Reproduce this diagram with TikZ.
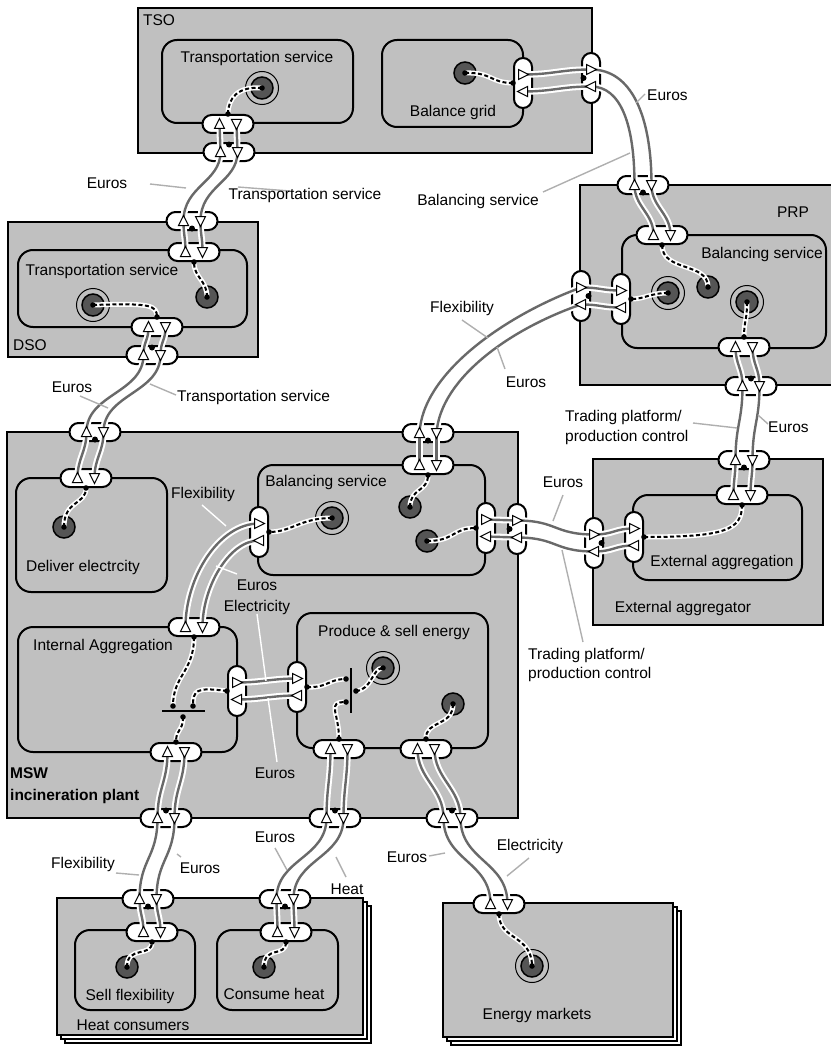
\documentclass[tikz,border=0pt]{standalone}
\usepackage{fontspec}
\setmainfont{Liberation Sans}

\definecolor{actfill}{RGB}{192,192,192}
\definecolor{stimfill}{RGB}{85,85,85}
\definecolor{flowline}{RGB}{105,105,105}
\definecolor{leadline}{RGB}{175,175,175}

\tikzset{
  actor/.style={draw, fill=actfill, line width=2pt},
  stackback/.style={draw, fill=white, line width=1.5pt},
  activity/.style={draw, fill=actfill, line width=2pt, rounded corners=15pt},
  hport/.style={draw, fill=white, line width=2pt, rounded corners=9pt, minimum width=51pt, minimum height=18pt, inner sep=0pt},
  vport/.style={draw, fill=white, line width=2pt, rounded corners=9pt, minimum width=18pt, minimum height=50pt, inner sep=0pt},
  flow/.style={draw=flowline, line width=2.4pt, preaction={draw=white, line width=6.5pt}},
  dep/.style={draw=black, line width=2pt, dash pattern=on 4pt off 2.5pt, preaction={draw=white, line width=5pt, solid}},
  lead/.style={draw=leadline, line width=1.4pt},
  leadw/.style={draw=white, line width=1.4pt},
  lbl/.style={inner sep=0pt, font=\fontsize{15.5}{18}\selectfont},
  stimnode/.style={circle, draw, line width=1.5pt, fill=stimfill, minimum size=22pt, inner sep=0pt},
  ringnode/.style={circle, draw, line width=1pt, minimum size=33pt, inner sep=0pt},
  tu/.pic={\draw[fill=white, line width=1pt] (0,-5.5) -- (5,4.5) -- (-5,4.5) -- cycle;},
  td/.pic={\draw[fill=white, line width=1pt] (0,5.5) -- (5,-4.5) -- (-5,-4.5) -- cycle;},
  tr/.pic={\draw[fill=white, line width=1pt] (5.5,0) -- (-4.5,-5) -- (-4.5,5) -- cycle;},
  tl/.pic={\draw[fill=white, line width=1pt] (-5.5,0) -- (4.5,-5) -- (4.5,5) -- cycle;}
}

% ports: horizontal pill with -l/-r, vertical pill with -t/-b
\newcommand{\hpt}[3]{\node[hport] (#1) at (#2,#3) {};
  \coordinate (#1-l) at ([xshift=-8.5pt]#1.center);
  \coordinate (#1-r) at ([xshift=8.5pt]#1.center);}
\newcommand{\vpt}[3]{\node[vport] (#1) at (#2,#3) {};
  \coordinate (#1-t) at ([yshift=8.5pt]#1.center);
  \coordinate (#1-b) at ([yshift=-8.5pt]#1.center);}
\newcommand{\stim}[3]{\node[stimnode] (#1) at (#2,#3) {};}
\newcommand{\estim}[3]{\node[ringnode] at (#2,#3) {};
  \node[stimnode] (#1) at (#2,#3) {};}

\begin{document}
\begin{tikzpicture}[x=1pt, y=-1pt]
\useasboundingbox (0,0) rectangle (830,1046);

% actors
\draw[actor] (138,8) rectangle (592,153);
\draw[actor] (8,222) rectangle (258,357);
\draw[actor] (580,185) rectangle (836,385);
\draw[actor] (7,432) rectangle (518,818);
\draw[actor] (593,459) rectangle (823,625);
\draw[stackback] (65,906) rectangle (371,1043);
\draw[stackback] (61,902) rectangle (367,1039);
\draw[actor] (57,898) rectangle (363,1035);
\draw[stackback] (451,911) rectangle (681,1045);
\draw[stackback] (447,907) rectangle (677,1041);
\draw[actor] (443,903) rectangle (673,1037);

% value activities
\draw[activity] (162,40) rectangle (353,123);
\draw[activity] (382,40) rectangle (523,127);
\draw[activity] (18,250) rectangle (247,327);
\draw[activity] (622,235) rectangle (826,348);
\draw[activity] (16,478) rectangle (167,592);
\draw[activity] (258,465) rectangle (485,575);
\draw[activity] (18,627) rectangle (237,752);
\draw[activity] (297,613) rectangle (488,748);
\draw[activity] (633,495) rectangle (802,580);
\draw[activity] (75,930) rectangle (195,1010);
\draw[activity] (217,930) rectangle (338,1010);

% ports
\hpt{tsoTa}{228}{124} \hpt{tsoA}{229}{152}
\hpt{dsoA1}{192}{221} \hpt{dsoT1}{194}{252}
\hpt{dsoT2}{157}{327} \hpt{dsoA2}{152}{355}
\hpt{mswA1}{95}{432} \hpt{mswD}{86}{478}
\hpt{mswA2}{428}{433} \hpt{mswB1}{428}{465}
\hpt{iaT}{194}{627} \hpt{iaB}{176}{752}
\hpt{psB1}{339}{749} \hpt{psB2}{426}{749}
\hpt{mswA3}{166}{818} \hpt{mswA4}{335}{818} \hpt{mswA5}{452}{818}
\hpt{hcA1}{148}{899} \hpt{hcS}{152}{932}
\hpt{hcA2}{285}{899} \hpt{hcC}{286}{932}
\hpt{emA}{499}{904}
\hpt{prpA1}{643}{185} \hpt{prpB1}{662}{235}
\hpt{prpB2}{744}{347} \hpt{prpA2}{751}{386}
\hpt{eaA1}{744}{460} \hpt{eaX1}{742}{495}
\vpt{bgV}{523}{83} \vpt{tsoV}{591}{78}
\vpt{prpV}{581}{296} \vpt{prpBV}{621}{299}
\vpt{mswBV1}{259}{532} \vpt{mswBV2}{486}{528} \vpt{mswV}{517}{529}
\vpt{eaV}{594}{543} \vpt{eaXV}{634}{537}
\vpt{iaV}{237}{691} \vpt{psV}{297}{687}

% value exchanges
\draw[flow] (tsoA-l) .. controls +(0,-14) and +(0,14) .. (tsoTa-l);
\draw[flow] (tsoTa-r) .. controls +(0,14) and +(0,-14) .. (tsoA-r);
\draw[flow] (dsoA1-l) .. controls +(0,-35) and +(0,30) .. (tsoA-l);
\draw[flow] (tsoA-r) .. controls +(0,30) and +(0,-35) .. (dsoA1-r);
\draw[flow] (dsoT1-l) .. controls +(0,-15) and +(0,15) .. (dsoA1-l);
\draw[flow] (dsoA1-r) .. controls +(0,15) and +(0,-15) .. (dsoT1-r);
\draw[flow] (dsoA2-l) .. controls +(0,-14) and +(0,14) .. (dsoT2-l);
\draw[flow] (dsoT2-r) .. controls +(0,14) and +(0,-14) .. (dsoA2-r);
\draw[flow] (mswA1-l) .. controls +(0,-38) and +(0,38) .. (dsoA2-l);
\draw[flow] (dsoA2-r) .. controls +(0,38) and +(0,-38) .. (mswA1-r);
\draw[flow] (mswD-l) .. controls +(0,-20) and +(0,20) .. (mswA1-l);
\draw[flow] (mswA1-r) .. controls +(0,20) and +(0,-20) .. (mswD-r);
\draw[flow] (mswB1-l) -- (mswA2-l);
\draw[flow] (mswA2-r) -- (mswB1-r);
\draw[flow] (mswA2-l) .. controls +(3,-60) and +(-76,28) .. (prpV-t);
\draw[flow] (prpV-b) .. controls +(-70,24) and +(4,-55) .. (mswA2-r);
\draw[flow] (prpV-t) .. controls +(20,0) and +(-20,0) .. (prpBV-t);
\draw[flow] (prpBV-b) .. controls +(-20,0) and +(20,0) .. (prpV-b);
\draw[flow] (bgV-t) .. controls +(30,0) and +(-30,0) .. (tsoV-t);
\draw[flow] (tsoV-b) .. controls +(-30,0) and +(30,0) .. (bgV-b);
\draw[flow] (tsoV-t) .. controls +(40,0) and +(0,-70) .. (prpA1-r);
\draw[flow] (prpA1-l) .. controls +(0,-60) and +(30,0) .. (tsoV-b);
\draw[flow] (prpB1-l) .. controls +(0,-22) and +(0,22) .. (prpA1-l);
\draw[flow] (prpA1-r) .. controls +(0,22) and +(0,-22) .. (prpB1-r);
\draw[flow] (prpA2-l) .. controls +(0,-18) and +(0,18) .. (prpB2-l);
\draw[flow] (prpB2-r) .. controls +(0,18) and +(0,-18) .. (prpA2-r);
\draw[flow] (eaA1-l) .. controls +(0,-35) and +(0,35) .. (prpA2-l);
\draw[flow] (prpA2-r) .. controls +(0,35) and +(0,-35) .. (eaA1-r);
\draw[flow] (eaX1-l) .. controls +(0,-16) and +(0,16) .. (eaA1-l);
\draw[flow] (eaA1-r) .. controls +(0,16) and +(0,-16) .. (eaX1-r);
\draw[flow] (mswBV2-t) .. controls +(15,0) and +(-15,0) .. (mswV-t);
\draw[flow] (mswV-b) .. controls +(-15,0) and +(15,0) .. (mswBV2-b);
\draw[flow] (mswV-t) .. controls +(40,0) and +(-40,0) .. (eaV-t);
\draw[flow] (eaV-b) .. controls +(-40,0) and +(40,0) .. (mswV-b);
\draw[flow] (eaV-t) .. controls +(20,0) and +(-20,0) .. (eaXV-t);
\draw[flow] (eaXV-b) .. controls +(-20,0) and +(20,0) .. (eaV-b);
\draw[flow] (iaT-l) .. controls +(0,-50) and +(-40,0) .. (mswBV1-t);
\draw[flow] (mswBV1-b) .. controls +(-30,0) and +(0,-40) .. (iaT-r);
\draw[flow] (iaV-t) .. controls +(25,0) and +(-25,0) .. (psV-t);
\draw[flow] (psV-b) .. controls +(-25,0) and +(25,0) .. (iaV-b);
\draw[flow] (mswA3-l) .. controls +(0,-30) and +(0,30) .. (iaB-l);
\draw[flow] (iaB-r) .. controls +(0,30) and +(0,-30) .. (mswA3-r);
\draw[flow] (mswA4-l) .. controls +(0,-30) and +(0,30) .. (psB1-l);
\draw[flow] (psB1-r) .. controls +(0,30) and +(0,-30) .. (mswA4-r);
\draw[flow] (mswA5-l) .. controls +(0,-30) and +(0,30) .. (psB2-l);
\draw[flow] (psB2-r) .. controls +(0,30) and +(0,-30) .. (mswA5-r);
\draw[flow] (hcA1-l) .. controls +(0,-40) and +(0,40) .. (mswA3-l);
\draw[flow] (mswA3-r) .. controls +(0,40) and +(0,-40) .. (hcA1-r);
\draw[flow] (hcS-l) .. controls +(0,-15) and +(0,15) .. (hcA1-l);
\draw[flow] (hcA1-r) .. controls +(0,15) and +(0,-15) .. (hcS-r);
\draw[flow] (hcA2-l) .. controls +(0,-40) and +(0,40) .. (mswA4-l);
\draw[flow] (mswA4-r) .. controls +(0,40) and +(0,-40) .. (hcA2-r);
\draw[flow] (hcC-l) .. controls +(0,-15) and +(0,15) .. (hcA2-l);
\draw[flow] (hcA2-r) .. controls +(0,15) and +(0,-15) .. (hcC-r);
\draw[flow] (emA-l) .. controls +(0,-43) and +(0,43) .. (mswA5-l);
\draw[flow] (mswA5-r) .. controls +(0,43) and +(0,-43) .. (emA-r);

% port triangles
\foreach \p in {tsoTa,tsoA,dsoA1,dsoT1,dsoT2,dsoA2,mswA1,mswD,mswA2,mswB1,iaT,iaB,psB1,psB2,mswA3,mswA4,mswA5,hcA1,hcS,hcA2,hcC,emA,prpA1,prpB1,prpB2,prpA2,eaA1,eaX1}{
  \pic at (\p-l) {tu};
  \pic at (\p-r) {td};
}
\foreach \p in {bgV,tsoV,prpV,prpBV,mswBV1,mswBV2,mswV,eaV,eaXV,iaV,psV}{
  \pic at (\p-t) {tr};
  \pic at (\p-b) {tl};
}

% stimuli
\stim{bgS}{465}{73} \stim{dsoS}{207}{297} \stim{delS}{64}{527}
\stim{bsS1}{410}{507} \stim{bsS2}{427}{541} \stim{psS}{453}{704}
\stim{prpS}{708}{287} \stim{sfS}{127}{967} \stim{chS}{264}{967}
\estim{tsoE}{262}{88} \estim{dsoE}{93}{305} \estim{bsE}{332}{518}
\estim{psE}{383}{668} \estim{prpE1}{668}{293} \estim{prpE2}{747}{302}
\estim{emE}{532}{966}

% connection elements
\coordinate (iaF1) at (173,706); \coordinate (iaF2) at (193,706); \coordinate (iaF3) at (183,717);
\coordinate (psF1) at (346,679); \coordinate (psF2) at (346,702); \coordinate (psF3) at (356,691);
\draw[line width=1.5pt] (162,711) -- (205,711);
\draw[line width=1.5pt] (351,668) -- (351,713);

% dependency paths
\draw[dep] (tsoE.center) .. controls (238,86) and (228,98) .. (tsoTa.north);
\draw[dep] (bgS.center) .. controls (492,72) and (490,83) .. (bgV.west);
\draw[dep] (dsoS.center) .. controls (207,280) and (194,278) .. (dsoT1.south);
\draw[dep] (dsoE.center) .. controls (150,303) and (157,305) .. (dsoT2.north);
\draw[dep] (delS.center) .. controls (64,500) and (86,505) .. (mswD.south);
\draw[dep] (bsS1.center) .. controls (410,488) and (428,492) .. (mswB1.south);
\draw[dep] (bsE.center) .. controls (300,518) and (292,532) .. (mswBV1.east);
\draw[dep] (bsS2.center) .. controls (455,541) and (452,528) .. (mswBV2.west);
\draw[dep] (iaT.south) .. controls (194,672) and (173,675) .. (iaF1);
\draw[dep] (iaV.west) .. controls (196,687) and (193,690) .. (iaF2);
\draw[dep] (iaF3) .. controls (183,732) and (176,728) .. (iaB.north);
\draw[dep] (psV.east) .. controls (328,688) and (328,679) .. (psF1);
\draw[dep] (psB1.north) .. controls (339,712) and (326,702) .. (psF2);
\draw[dep] (psF3) .. controls (372,690) and (372,668) .. (psE.center);
\draw[dep] (psS.center) .. controls (453,727) and (425,720) .. (psB2.north);
\draw[dep] (prpB1.south) .. controls (662,272) and (708,262) .. (prpS.center);
\draw[dep] (prpE1.center) .. controls (650,293) and (645,299) .. (prpBV.east);
\draw[dep] (prpE2.center) .. controls (747,322) and (744,320) .. (prpB2.north);
\draw[dep] (eaXV.east) .. controls (725,537) and (742,530) .. (eaX1.south);
\draw[dep] (sfS.center) .. controls (127,945) and (152,958) .. (hcS.south);
\draw[dep] (chS.center) .. controls (264,945) and (286,958) .. (hcC.south);
\draw[dep] (emA.south) .. controls (499,940) and (532,935) .. (emE.center);

% end dots
\foreach \d in {tsoE.center,tsoTa.north,bgS.center,bgV.west,dsoS.center,dsoT1.south,dsoE.center,dsoT2.north,
  delS.center,mswD.south,bsS1.center,mswB1.south,bsE.center,mswBV1.east,bsS2.center,mswBV2.west,
  iaT.south,iaF1,iaV.west,iaF2,iaF3,iaB.north,psV.east,psF1,psB1.north,psF2,psF3,psE.center,psS.center,psB2.north,
  prpB1.south,prpS.center,prpE1.center,prpBV.east,prpE2.center,prpB2.north,eaXV.east,eaX1.south,
  sfS.center,hcS.south,chS.center,hcC.south,emA.south,emE.center}
  \fill (\d) circle[radius=2.8];

% actor interface markers
\foreach \d in {tsoA.north,dsoA2.north,mswA3.north,mswA4.north,mswA5.north,prpA2.north}
  \fill ([yshift=-2.5pt]\d) circle[radius=3];
\foreach \d in {dsoA1.south,mswA1.south,mswA2.south,hcA1.south,hcA2.south,prpA1.south,eaA1.south}
  \fill ([yshift=2.5pt]\d) circle[radius=3];
\foreach \d in {tsoV.west,mswV.west}
  \fill ([xshift=2.5pt]\d) circle[radius=3];
\foreach \d in {prpV.east,eaV.east}
  \fill ([xshift=-2.5pt]\d) circle[radius=3];

% actor and activity labels
\node[lbl] (tsoL) at (159,20) {TSO};
\node[lbl] (tsoTL) at (257,58) {Transportation service};
\node[lbl] (bgL) at (453,112) {Balance grid};
\node[lbl] (prpL) at (793,212) {PRP};
\node[lbl] (prpBL) at (762,254) {Balancing service};
\node[lbl, anchor=west] (dsoL) at (13,345) {DSO};
\node[lbl] (dsoTL) at (102,271) {Transportation service};
\node[lbl, anchor=west, font=\fontsize{15.5}{18}\selectfont\bfseries] (mswL1) at (10,773) {MSW};
\node[lbl, anchor=west, font=\fontsize{15.5}{18}\selectfont\bfseries] (mswL2) at (10,796) {incineration plant};
\node[lbl] (delL) at (83,567) {Deliver electrcity};
\node[lbl] (bsL) at (326,482) {Balancing service};
\node[lbl] (iaL) at (103,646) {Internal Aggregation};
\node[lbl] (psL) at (394,632) {Produce \& sell energy};
\node[lbl] (eaXL) at (722,562) {External aggregation};
\node[lbl] (eaL) at (683,608) {External aggregator};
\node[lbl] (sfL) at (130,996) {Sell flexibility};
\node[lbl] (chL) at (274,994) {Consume heat};
\node[lbl] (hcL) at (133,1025) {Heat consumers};
\node[lbl] (emL) at (537,1015) {Energy markets};

% exchange labels
\draw[lead] (150,184) -- (186,188);
\node[lbl] (x1) at (107,183) {Euros};
\draw[lead] (238,187) -- (290,191);
\node[lbl] (x2) at (305,195) {Transportation service};
\draw[lead] (636,103) -- (645,94);
\node[lbl, anchor=west] (x3) at (647,95) {Euros};
\draw[lead] (543,192) -- (630,153);
\node[lbl] (x4) at (478,201) {Balancing service};
\draw[lead] (80,396) -- (108,408);
\node[lbl] (x5) at (72,387) {Euros};
\draw[lead] (150,384) -- (176,395);
\node[lbl, anchor=west] (x6) at (177,397) {Transportation service};
\draw[lead] (462,320) -- (488,338);
\node[lbl] (x7) at (462,308) {Flexibility};
\draw[lead] (505,369) -- (497,347);
\node[lbl] (x8) at (526,382) {Euros};
\draw[lead] (693,423) -- (737,428);
\node[lbl, anchor=west] (x9) at (565,417) {Trading platform/};
\node[lbl, anchor=west] (x10) at (565,437) {production control};
\draw[lead] (758,415) -- (768,424);
\node[lbl, anchor=west] (x11) at (768,427) {Euros};
\draw[lead] (563,495) -- (553,521);
\node[lbl] (x12) at (563,482) {Euros};
\draw[lead] (562,550) -- (583,642);
\node[lbl, anchor=west] (x13) at (528,655) {Trading platform/};
\node[lbl, anchor=west] (x14) at (528,674) {production control};
\draw[leadw] (202,505) -- (226,526);
\node[lbl] (x15) at (203,494) {Flexibility};
\draw[leadw] (237,574) -- (216,566);
\node[lbl] (x16) at (257,585) {Euros};
\draw[leadw] (257,614) -- (266,681);
\node[lbl] (x17) at (257,607) {Electricity};
\draw[leadw] (277,762) -- (268,698);
\node[lbl] (x18) at (275,773) {Euros};
\draw[lead] (116,873) -- (139,875);
\node[lbl] (x19) at (83,864) {Flexibility};
\draw[lead] (177,854) -- (181,857);
\node[lbl] (x20) at (200,868) {Euros};
\draw[lead] (275,848) -- (287,870);
\node[lbl] (x21) at (275,837) {Euros};
\draw[lead] (336,857) -- (346,877);
\node[lbl] (x22) at (347,889) {Heat};
\draw[lead] (429,856) -- (445,853);
\node[lbl] (x23) at (407,857) {Euros};
\draw[lead] (529,858) -- (507,876);
\node[lbl] (x24) at (530,846) {Electricity};
\end{tikzpicture}
\end{document}
